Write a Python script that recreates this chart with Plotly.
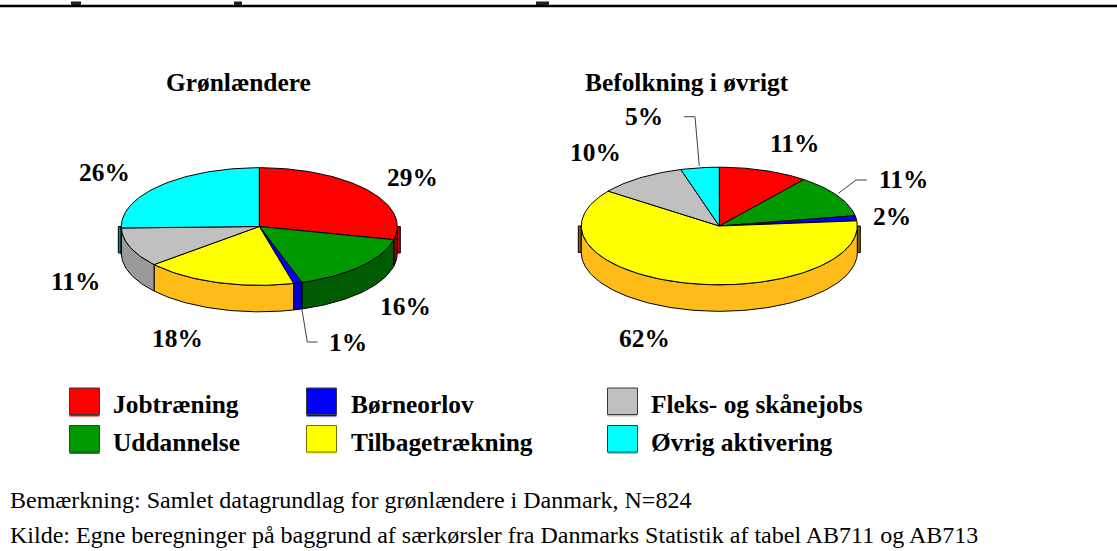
import math
import plotly.graph_objects as go

# ---- data
categories = ["Jobtræning", "Uddannelse", "Børneorlov", "Tilbagetrækning", "Fleks- og skånejobs", "Øvrig aktivering"]
groenlaendere = [28.6, 16.4, 1.0, 17.8, 10.8, 25.4]
oevrige = [10.5, 11.7, 1.4, 61.5, 10.4, 4.5]
labels_left = ["29%", "16%", "1%", "18%", "11%", "26%"]
labels_right = ["11%", "11%", "2%", "62%", "10%", "5%"]
top_colors = ["#FF0000", "#009900", "#0000FF", "#FFFF00", "#C0C0C0", "#00FFFF"]
wall_colors = ["#990000", "#005C00", "#0000C8", "#FFBB18", "#9A9A9A", "#009999"]
tip_colors = ["#C00000", "#005C00", "#0000C8", "#806000", "#808080", "#008888"]
# remains of the cropped heading: descender stubs just above the rule (x0, x1)
stubs = [(71, 81), (234, 242), (536, 549)]

W, H = 1117, 551
RX, RY, DEPTH = 138, 58.8, 26.5
TXT = "Liberation Serif, Times New Roman, serif"
BIG = 25.4
SMALL = 24

fig = go.Figure()


def pt(cx, cy, deg, dy=0):
    a = math.radians(deg)
    return cx + RX * math.sin(a), cy - RY * math.cos(a) + dy


def arc(cx, cy, a, b, dy=0):
    n = max(2, int(abs(b - a) / 1.5) + 2)
    return [pt(cx, cy, a + (b - a) * i / (n - 1), dy) for i in range(n)]


def poly(points, fill, line="#000000", width=1):
    xs = [p[0] for p in points] + [points[0][0]]
    ys = [p[1] for p in points] + [points[0][1]]
    fig.add_trace(go.Scatter(x=xs, y=ys, mode="lines", fill="toself", fillcolor=fill,
                             line=dict(color=line, width=width), hoverinfo="skip", showlegend=False))


def line(points, color="#000000", width=1):
    fig.add_trace(go.Scatter(x=[p[0] for p in points], y=[p[1] for p in points], mode="lines",
                             line=dict(color=color, width=width), hoverinfo="skip", showlegend=False))


def pie(cx, cy, values):
    total = sum(values)
    edges = [0]
    for v in values:
        edges.append(edges[-1] + v / total * 360)
    # small tips on the far left and right of the wall
    for side, ang in ((-1, 270), (1, 90)):
        k = next(i for i in range(len(values)) if edges[i] <= ang < edges[i + 1])
        x0 = cx + side * RX
        x1 = cx + side * (RX + 3)
        poly([(x0, cy), (x1, cy), (x1, cy + DEPTH), (x0, cy + DEPTH)], tip_colors[k])
    # front walls
    for i in range(len(values)):
        a, b = max(edges[i], 90), min(edges[i + 1], 270)
        if b > a:
            poly(arc(cx, cy, a, b) + arc(cx, cy, b, a, DEPTH), wall_colors[i])
    # top faces
    for i in range(len(values)):
        poly([(cx, cy)] + arc(cx, cy, edges[i], edges[i + 1]), top_colors[i])


pie(259.3, 226.5, groenlaendere)
pie(719.3, 226.0, oevrige)

# leader lines
LEAD = "#404040"
line([(301.7, 308), (307.3, 342), (317.5, 342)], LEAD)
line([(684, 116.7), (695, 116.7), (699.3, 166)], LEAD)
line([(838.3, 193.3), (856, 180), (866.7, 180)], LEAD)

annotations = []


def text(x, y, s, size=BIG, bold=True, anchor="center"):
    t = f"<b>{s}</b>" if bold else s
    annotations.append(dict(x=x, y=y, text=t, showarrow=False, xanchor=anchor, yanchor="middle",
                            xref="x", yref="y", align="left",
                            font=dict(family=TXT, size=size, color="#000000")))


text(238, 82, "Grønlændere")
text(687, 82, "Befolkning i øvrigt")

left_pos = [(412, 177), (405, 306), (348, 342), (177, 338), (75, 281), (104, 172)]
right_pos = [(794, 143), (903, 179), (892, 216), (644, 338), (595, 152), (644, 116)]
for (x, y), s in zip(left_pos, labels_left):
    text(x, y, s)
for (x, y), s in zip(right_pos, labels_right):
    text(x, y, s)

# legend (column by column, same order as the categories)
swatch_x = [69.5, 69.5, 306.5, 306.5, 607.5, 607.5]
swatch_y = [388, 425.5, 388, 425.5, 388, 425.5]
text_x = [110.5, 110.5, 348.5, 348.5, 649, 649]
shapes = []
for i, name in enumerate(categories):
    sx, sy = swatch_x[i], swatch_y[i]
    shapes.append(dict(type="rect", x0=sx, x1=sx + 30, y0=sy + 24, y1=sy + 28.5,
                       fillcolor=top_colors[i], line=dict(width=0), layer="below"))
    shapes.append(dict(type="rect", x0=sx, x1=sx + 30, y0=sy, y1=sy + 26.5, fillcolor=top_colors[i],
                       line=dict(color="#3a3a3a" if i != 3 else "#707000", width=1), layer="below"))
    text(text_x[i], sy + 16, name, anchor="left")

# header rule and the stubs of the cropped heading above it
shapes.append(dict(type="line", x0=0, x1=W, y0=6, y1=6, line=dict(color="#000000", width=2.4)))
for x0, x1 in stubs:
    shapes.append(dict(type="rect", x0=x0, x1=x1, y0=1.5, y1=5, fillcolor="#202020", line=dict(width=0)))

text(8, 500, "Bemærkning: Samlet datagrundlag for grønlændere i Danmark, N=824", size=SMALL, bold=False, anchor="left")
text(8, 535, "Kilde: Egne beregninger på baggrund af særkørsler fra Danmarks Statistik af tabel AB711 og AB713",
     size=SMALL, bold=False, anchor="left")

fig.update_layout(
    width=W, height=H, margin=dict(l=0, r=0, t=0, b=0), autosize=False,
    paper_bgcolor="#FFFFFF", plot_bgcolor="#FFFFFF", showlegend=False,
    xaxis=dict(range=[0, W], visible=False, fixedrange=True),
    yaxis=dict(range=[H, 0], visible=False, fixedrange=True),
    shapes=shapes, annotations=annotations,
)
fig.write_html("out.html", config={"displayModeBar": False},
               post_script="document.body.style.margin='0';document.body.style.overflow='hidden';")
